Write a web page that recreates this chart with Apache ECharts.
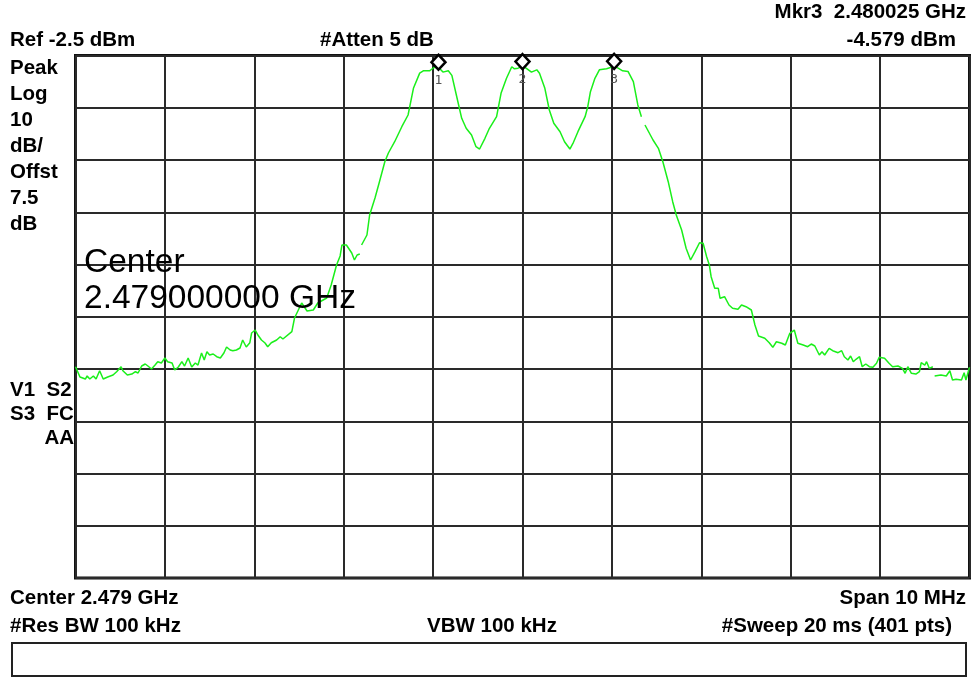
<!DOCTYPE html>
<html>
<head>
<meta charset="utf-8">
<script src="https://cdn.jsdelivr.net/npm/echarts@6/dist/echarts.min.js"></script>
<style>
html,body{margin:0;padding:0;background:#fff;}
#chart{width:971px;height:677px;}
</style>
</head>
<body>
<div id="chart"></div>
<script>
// Frequency (MHz) of each trace point, null entries mark gaps in the trace
var freqMHz = [
2474.00,2474.05,2474.11,2474.13,2474.16,2474.20,2474.23,2474.27,2474.31,2474.36,
2474.42,2474.46,2474.51,2474.53,2474.58,2474.63,2474.67,2474.70,2474.74,2474.78,
2474.81,2474.85,2474.89,2474.92,2474.96,2475.00,2475.03,2475.08,2475.11,2475.15,
2475.19,2475.22,2475.26,2475.30,2475.34,2475.37,2475.41,2475.44,2475.47,2475.50,
2475.54,2475.58,2475.62,2475.66,2475.69,2475.73,2475.76,2475.80,2475.84,2475.87,
2475.91,2475.95,2475.97,2476.01,2476.04,2476.08,2476.12,2476.15,2476.19,2476.25,
2476.29,2476.32,2476.34,2476.42,2476.45,2476.53,2476.59,2476.66,2476.71,2476.81,
2476.86,2476.92,2476.96,2476.98,2477.03,2477.09,2477.12,2477.15,2477.18,2477.19,
2477.20,2477.26,2477.29,2477.35,2477.40,2477.46,2477.50,2477.57,2477.65,2477.72,
2477.78,2477.85,2477.89,2477.96,2478.01,2478.06,2478.11,2478.17,2478.21,2478.26,
2478.32,2478.37,2478.43,2478.48,2478.52,2478.58,2478.63,2478.71,2478.76,2478.82,
2478.88,2478.91,2478.95,2479.00,2479.04,2479.10,2479.16,2479.19,2479.25,2479.30,
2479.35,2479.42,2479.47,2479.53,2479.57,2479.62,2479.70,2479.73,2479.76,2479.81,
2479.86,2479.94,2480.025,2480.07,2480.12,2480.18,2480.24,2480.29,2480.33,2480.35,
2480.37,2480.40,2480.46,2480.52,2480.57,2480.63,2480.68,2480.72,2480.78,2480.83,
2480.88,2480.93,2480.98,2481.02,2481.06,2481.09,2481.11,2481.15,2481.19,2481.21,
2481.26,2481.31,2481.35,2481.41,2481.45,2481.50,2481.56,2481.60,2481.64,2481.71,
2481.76,2481.80,2481.84,2481.90,2481.94,2481.99,2482.04,2482.08,2482.14,2482.19,
2482.23,2482.27,2482.32,2482.35,2482.38,2482.43,2482.47,2482.53,2482.57,2482.60,
2482.64,2482.67,2482.70,2482.73,2482.77,2482.80,2482.84,2482.88,2482.92,2482.96,
2482.99,2483.05,2483.10,2483.14,2483.20,2483.25,2483.28,2483.31,2483.35,2483.40,
2483.44,2483.46,2483.50,2483.52,2483.55,2483.59,2483.60,2483.61,2483.68,2483.74,
2483.78,2483.81,2483.85,2483.91,2483.94,2483.96,2484.00
];
// Level (dBm) of each trace point
var levelDbm = [
-62.06,-64.03,-64.42,-63.84,-64.42,-63.84,-64.42,-62.83,-64.42,-64.03,
-63.65,-63.02,-62.06,-62.83,-63.65,-63.46,-63.02,-63.27,-61.93,-61.54,
-61.93,-62.50,-61.74,-61.10,-61.35,-60.40,-61.10,-61.35,-62.69,-62.12,
-61.10,-61.93,-60.40,-62.12,-61.35,-61.74,-59.44,-60.78,-59.19,-59.82,
-59.63,-60.15,-60.40,-59.44,-58.29,-58.86,-59.00,-58.86,-58.48,-56.95,
-58.29,-57.47,-55.61,-55.04,-55.99,-56.95,-57.52,-58.23,-57.47,-56.95,
-56.32,-56.76,-56.57,-55.36,-52.74,-49.87,-51.40,-51.21,-49.87,-48.91,
-46.42,-42.60,-40.87,-38.77,-38.77,-40.30,-41.64,-40.68,-40.49,null,
-38.77,-36.85,-33.03,-29.77,-26.65,-22.83,-21.16,-19.00,-16.13,-13.89,
-8.78,-5.88,-5.43,-5.43,-4.80,-4.75,-5.68,-5.43,-6.30,-10.06,
-14.52,-16.43,-17.72,-19.95,-20.40,-18.35,-16.43,-14.21,-9.73,-6.90,
-4.65,-5.05,-4.92,-4.62,-4.92,-5.68,-5.24,-5.88,-8.78,-12.93,
-15.48,-17.08,-19.00,-20.40,-19.11,-17.08,-14.21,-12.30,-9.43,-6.86,
-5.24,-5.05,-4.579,-4.92,-5.43,-5.55,-7.51,-11.97,-14.21,null,
-15.80,-16.76,-18.67,-20.26,-22.83,-26.65,-30.48,-33.03,-35.90,-39.40,
-41.64,-40.05,-38.33,-38.44,-41.01,-42.60,-44.84,-47.06,-47.06,-48.97,
-48.66,-50.25,-50.88,-51.07,-50.25,-50.58,-51.21,-54.08,-56.19,-56.62,
-57.47,-58.35,-57.28,-57.58,-57.91,-55.67,-55.04,-57.58,-57.91,-58.23,
-57.72,-58.10,-59.82,-59.19,-59.82,-58.54,-59.00,-59.38,-59.00,-60.15,
-60.78,-60.01,-61.10,-60.64,-60.15,-62.06,-61.54,-62.06,-62.17,-61.41,
-60.26,-60.45,-61.41,-62.06,-61.93,-62.37,-63.32,-62.06,-63.32,-63.46,
-63.02,-61.30,-61.74,-61.10,-62.37,-62.06,null,-63.84,-63.65,-63.84,
-62.83,-64.61,-64.47,-64.61,-63.21,-64.61,-62.17
];
// Markers
var markerNames = ['1','2','3'];
var markerFreq = [2478.06, 2479.00, 2480.025];
var markerLevel = [-4.75, -4.62, -4.579];
// Axis settings (instrument state)
var freqStart = 2474, freqStop = 2484, freqDiv = 1;
var refLevel = -2.5, dbPerDiv = 10, numDivs = 10;
// Annotation texts
var topTexts = ['Mkr3  2.480025 GHz', 'Ref -2.5 dBm', '#Atten 5 dB', '-4.579 dBm'];
var leftTexts = ['Peak', 'Log', '10', 'dB/', 'Offst', '7.5', 'dB'];
var statusTexts = ['V1  S2', 'S3  FC', 'AA'];
var bottomTexts = ['Center 2.479 GHz', 'Span 10 MHz', '#Res BW 100 kHz', 'VBW 100 kHz', '#Sweep 20 ms (401 pts)'];
var centerTexts = ['Center', '2.479000000 GHz'];

var pts = freqMHz.map(function (f, i) { return [f, levelDbm[i]]; });
var BOLD = 'bold 20.5px "Liberation Sans", Arial, sans-serif';

function txt(s, x, y, align, font) {
  return { type: 'text', x: x, y: y, z: 100,
    style: { text: s, font: font || BOLD, fill: '#000', align: align || 'left', verticalAlign: 'middle' } };
}
var g = [];
g.push(txt(topTexts[0], 966, 12, 'right'));
g.push(txt(topTexts[1], 10, 40, 'left'));
g.push(txt(topTexts[2], 320, 40, 'left'));
g.push(txt(topTexts[3], 956, 40, 'right'));
leftTexts.forEach(function (s, i) { g.push(txt(s, 10, 68 + i * 26, 'left')); });
g.push(txt(statusTexts[0], 10, 390, 'left'));
g.push(txt(statusTexts[1], 10, 414, 'left'));
g.push(txt(statusTexts[2], 74, 438, 'right'));
g.push(txt(bottomTexts[0], 10, 598, 'left'));
g.push(txt(bottomTexts[1], 966, 598, 'right'));
g.push(txt(bottomTexts[2], 10, 626, 'left'));
g.push(txt(bottomTexts[3], 427, 626, 'left'));
g.push(txt(bottomTexts[4], 952, 626, 'right'));
var BIG = 'normal 33.5px "Liberation Sans", Arial, sans-serif';
g.push(txt(centerTexts[0], 84, 263, 'left', BIG));
g.push(txt(centerTexts[1], 84, 299, 'left', BIG));
g.push({ type: 'rect', z: 100, shape: { x: 12, y: 643, width: 954, height: 33 },
  style: { fill: 'none', stroke: '#222', lineWidth: 2 } });

var chart = echarts.init(document.getElementById('chart'));
chart.setOption({
  animation: false,
  backgroundColor: '#fff',
  grid: { left: 75.5, right: 1.5, top: 55.5, bottom: 99, show: true,
    borderColor: '#111', borderWidth: 3, backgroundColor: 'transparent' },
  xAxis: { type: 'value', min: freqStart, max: freqStop, interval: freqDiv,
    axisLine: { show: false }, axisTick: { show: false }, axisLabel: { show: false },
    splitLine: { show: true, lineStyle: { color: '#2a2a2a', width: 2 } } },
  yAxis: { type: 'value', min: refLevel - dbPerDiv * numDivs, max: refLevel, interval: dbPerDiv,
    axisLine: { show: false }, axisTick: { show: false }, axisLabel: { show: false },
    splitLine: { show: true, lineStyle: { color: '#2a2a2a', width: 2 } } },
  series: [{
    type: 'line', data: pts, showSymbol: false, connectNulls: false,
    lineStyle: { color: '#1aef1a', width: 1.5 },
    markPoint: {
      symbol: 'diamond', symbolSize: [14, 15], symbolOffset: [0, -5],
      itemStyle: { color: '#fff', borderColor: '#000', borderWidth: 2.5 },
      label: { show: true, position: 'bottom', distance: 3, color: '#555',
        fontFamily: '"DejaVu Sans Mono", monospace', fontSize: 13,
        formatter: function (p) { return p.name; } },
      data: markerNames.map(function (n, i) { return { name: n, coord: [markerFreq[i], markerLevel[i]] }; })
    }
  }],
  graphic: g
});
</script>
</body>
</html>
